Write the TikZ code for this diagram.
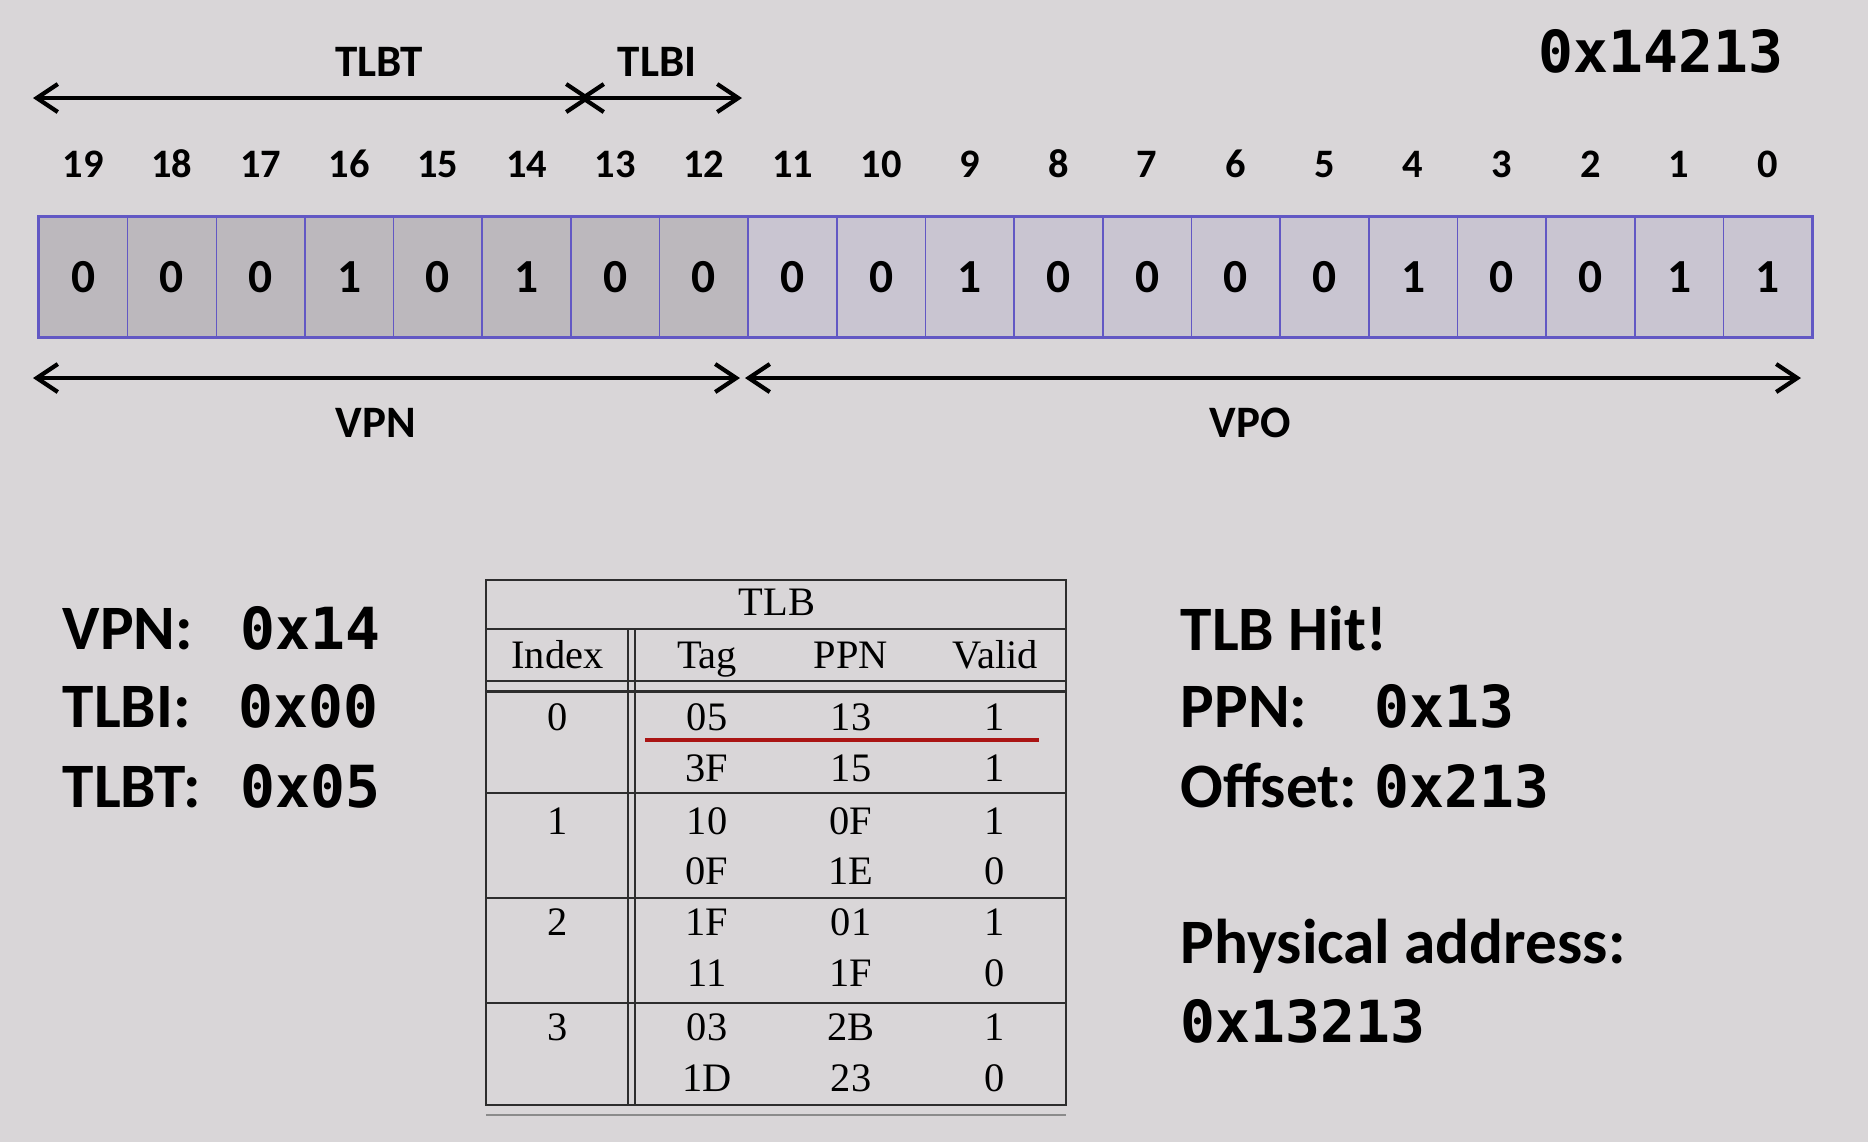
\documentclass[tikz,border=0pt]{standalone}
\usepackage{fontspec}
\setmainfont{Carlito}
\newfontfamily\hexfont{DejaVu Sans Mono}
\newfontfamily\tabfont{Liberation Serif}
\usepackage{tikz}
\usetikzlibrary{arrows.meta,positioning}

\definecolor{slidebg}{RGB}{217,214,216}
\definecolor{vpnfill}{RGB}{188,184,189}
\definecolor{vpofill}{RGB}{201,197,209}
\definecolor{cellborder}{RGB}{98,88,196}
\definecolor{tablecol}{RGB}{45,45,45}
\definecolor{hitred}{RGB}{170,20,20}

\begin{document}
\begin{tikzpicture}[
    bitcell/.style={rectangle, draw=cellborder, line width=0.45pt, minimum width=0.8865cm, minimum height=1.2cm, inner sep=0pt, font=\fontsize{13.5}{16}\selectfont\bfseries},
    bitnum/.style={inner sep=0pt, font=\fontsize{11.5}{14}\selectfont\bfseries},
    field/.style={anchor=base, inner sep=0pt, font=\fontsize{12.8}{15}\selectfont\bfseries},
    span/.style={{Straight Barb[length=2.1mm,width=2.8mm]}-{Straight Barb[length=2.1mm,width=2.8mm]}, line width=1.2pt},
    lbl/.style={anchor=base west, inner sep=0pt, font=\fontsize{18}{22}\selectfont\bfseries},
    hexval/.style={anchor=base west, inner sep=0pt, font=\fontsize{16.5}{20}\selectfont\hexfont\bfseries},
    tabtxt/.style={anchor=base, inner sep=0pt, font=\fontsize{11.5}{14}\selectfont\tabfont},
    tabline/.style={draw=tablecol, line width=0.7pt}
]
    % Background
    \fill[slidebg] (0,0) rectangle (18.68,-11.42);
    \useasboundingbox (0,0) rectangle (18.68,-11.42);

    % Virtual address
    \node[hexval, anchor=base] (vaddr) at (16.61,-0.72) {0x14213};

    % Bit cells
    \foreach \i/\b in {19/0,18/0,17/0,16/1,15/0,14/1,13/0,12/0}
        \node[bitcell, fill=vpnfill] (b\i) at ({0.39+(19.5-\i)*0.8865},-2.77) {\b};
    \foreach \i/\b in {11/0,10/0,9/1,8/0,7/0,6/0,5/0,4/1,3/0,2/0,1/1,0/1}
        \node[bitcell, fill=vpofill] (b\i) at ({0.39+(19.5-\i)*0.8865},-2.77) {\b};
    \draw[cellborder, line width=0.9pt] (b19.north west) rectangle (b0.south east);
    \foreach \i in {0,...,19}
        \node[bitnum, anchor=base] (n\i) at ([yshift=0.39cm]b\i.north) {\i};

    % Field arrows
    \coordinate (tlbtl) at (0.33,-0.98);
    \coordinate (tlbtr) at (5.91,-0.98);
    \coordinate (tlbil) at (5.79,-0.98);
    \coordinate (tlbir) at (7.42,-0.98);
    \coordinate (vpnl) at (0.33,-3.78);
    \coordinate (vpnr) at (7.40,-3.78);
    \coordinate (vpol) at (7.45,-3.78);
    \coordinate (vpor) at (18.01,-3.78);
    \draw[span] (tlbtl) -- (tlbtr);
    \draw[span] (tlbil) -- (tlbir);
    \draw[span] (vpnl) -- (vpnr);
    \draw[span] (vpol) -- (vpor);
    \node[field] (tlbt) at (3.79,-0.76) {TLBT};
    \node[field] (tlbi) at (6.57,-0.76) {TLBI};
    \node[field] (vpn) at (3.76,-4.37) {VPN};
    \node[field] (vpo) at (12.50,-4.37) {VPO};

    % Address breakdown
    \node[lbl] (vpnlbl) at (0.62,-6.49) {VPN:};
    \node[hexval] (vpnval) at (2.40,-6.49) {0x14};
    \node[lbl] (tlbilbl) at (0.62,-7.27) {TLBI:};
    \node[hexval] (tlbival) at (2.38,-7.27) {0x00};
    \node[lbl] (tlbtlbl) at (0.62,-8.07) {TLBT:};
    \node[hexval] (tlbtval) at (2.40,-8.07) {0x05};

    % TLB table
    \draw[tabline] (4.86,-5.80) rectangle (10.66,-11.05);
    \draw[tabline] (4.86,-6.29) -- (10.66,-6.29);
    \draw[tabline] (4.86,-6.81) -- (10.66,-6.81);
    \draw[tabline] (4.86,-6.915) -- (10.66,-6.915);
    \draw[tabline] (6.28,-6.29) -- (6.28,-11.05);
    \draw[tabline] (6.35,-6.29) -- (6.35,-11.05);
    \foreach \y in {-7.93,-8.98,-10.03}
        \draw[tabline] (4.86,\y) -- (10.66,\y);
    \draw[tabline, draw=tablecol!55] (4.86,-11.15) -- (10.66,-11.15);
    \node[tabtxt] (tlbttl) at (7.77,-6.156) {TLB};
    \node[tabtxt] (hidx) at (5.575,-6.68) {Index};
    \node[tabtxt] (htag) at (7.07,-6.68) {Tag};
    \node[tabtxt] (hppn) at (8.51,-6.68) {PPN};
    \node[tabtxt] (hval) at (9.95,-6.68) {Valid};
    \foreach \s/\yb in {0/7.305,1/8.345,2/9.35,3/10.40}
        \node[tabtxt] (idx\s) at (5.575,-\yb) {\s};
    \foreach \tg/\pp/\vl/\yb [count=\r] in {05/13/1/7.305,3F/15/1/7.81,10/0F/1/8.345,0F/1E/0/8.845,1F/01/1/9.35,11/1F/0/9.86,03/2B/1/10.40,1D/23/0/10.91}
    {
        \node[tabtxt] (tag\r) at (7.07,-\yb) {\tg};
        \node[tabtxt] (ppn\r) at (8.51,-\yb) {\pp};
        \node[tabtxt] (val\r) at (9.95,-\yb) {\vl};
    }
    \draw[hitred, line width=0.9pt] (6.45,-7.40) -- (10.39,-7.40);

    % Translation result
    \node[lbl] (hit) at (11.80,-6.50) {TLB Hit!};
    \node[lbl] (ppnlbl) at (11.80,-7.27) {PPN:};
    \node[hexval] (ppnval) at (13.74,-7.27) {0x13};
    \node[lbl] (offlbl) at (11.80,-8.07) {Offset:};
    \node[hexval] (offval) at (13.74,-8.07) {0x213};
    \node[lbl] (physlbl) at (11.80,-9.63) {Physical address:};
    \node[hexval] (physval) at (11.80,-10.42) {0x13213};
\end{tikzpicture}
\end{document}
